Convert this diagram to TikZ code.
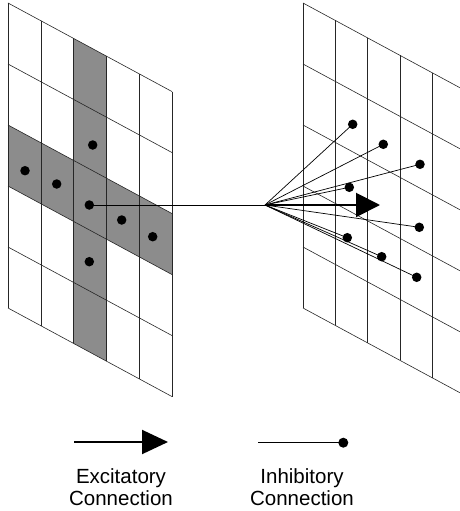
\documentclass[tikz,border=0pt]{standalone}
\usepackage{fontspec}
\setmainfont{Liberation Sans}
\usetikzlibrary{arrows.meta}
\newcommand\drawgrid[3]{%
  \foreach \i in {0,...,5}{%
    \draw[gridline] ({#1+\i*#3},{#2+0.54*\i*#3}) -- ({#1+\i*#3},{#2+5*61+0.54*\i*#3});
    \draw[gridline] (#1,{#2+\i*61}) -- ({#1+5*#3},{#2+\i*61+0.54*5*#3});
  }}
\begin{document}
\begin{tikzpicture}[x=1pt,y=-1pt,
  gridline/.style={line width=0.6pt, black!85},
  shadearea/.style={fill=black!45},
  dot/.style={circle, fill=black, inner sep=0pt, minimum size=9.5pt},
  conn/.style={line width=0.7pt},
  excit/.style={line width=2pt, -{Triangle[length=24pt,width=24pt]}},
  lbl/.style={font=\fontsize{20.5}{22.4}\selectfont, align=center, inner sep=0pt}]
\useasboundingbox (0,0) rectangle (460,511);
\clip (0,0) rectangle (460,511);
% shaded cross in left grid
\fill[shadearea] ({8+2*32.8},{3+0.54*2*32.8}) -- ({8+3*32.8},{3+0.54*3*32.8})
  -- ({8+3*32.8},{3+5*61+0.54*3*32.8}) -- ({8+2*32.8},{3+5*61+0.54*2*32.8}) -- cycle;
\fill[shadearea] (8,{3+2*61}) -- ({8+5*32.8},{3+2*61+0.54*5*32.8})
  -- ({8+5*32.8},{3+3*61+0.54*5*32.8}) -- (8,{3+3*61}) -- cycle;
% grids
\drawgrid{8}{3}{32.8}
\drawgrid{303}{3}{32.3}
% left dots
\node[dot] (L1) at (92.7,145) {};
\node[dot] (L2) at (25,170.7) {};
\node[dot] (L3) at (56.7,184) {};
\node[dot] (Lc) at (89.3,205) {};
\node[dot] (L5) at (121.7,220) {};
\node[dot] (L6) at (152.7,236.7) {};
\node[dot] (L7) at (89.3,261.7) {};
% right dots
\node[dot] (R1) at (352.7,124.3) {};
\node[dot] (R2) at (383.3,144.3) {};
\node[dot] (R3) at (420,164.3) {};
\node[dot] (R4) at (349.3,187.3) {};
\node[dot] (R5) at (419.3,227.3) {};
\node[dot] (R6) at (347.3,237.7) {};
\node[dot] (R7) at (381.7,256.7) {};
\node[dot] (R8) at (416.7,277.3) {};
% connections
\coordinate (F) at (265,205);
\coordinate (E) at (380,205);
\draw[conn] (Lc.center) -- (F);
\foreach \r in {R1,R2,R3,R4,R5,R6,R7,R8}{\draw[conn] (F) -- (\r.center);}
\draw[excit] (F) -- (E);
% legend
\coordinate (ea) at (74,442);
\coordinate (eb) at (168,442);
\draw[line width=2pt, -{Triangle[length=26pt,width=24pt]}] (ea) -- (eb);
\coordinate (ia) at (258,442.7);
\node[dot, minimum size=10pt] (ib) at (343.3,442.7) {};
\draw[conn] (ia) -- (ib.center);
\node[lbl, anchor=base] (exl) at (121,505.7) {Excitatory\\Connection};
\node[lbl, anchor=base] (inl) at (302,505.7) {Inhibitory\\Connection};
\end{tikzpicture}
\end{document}
